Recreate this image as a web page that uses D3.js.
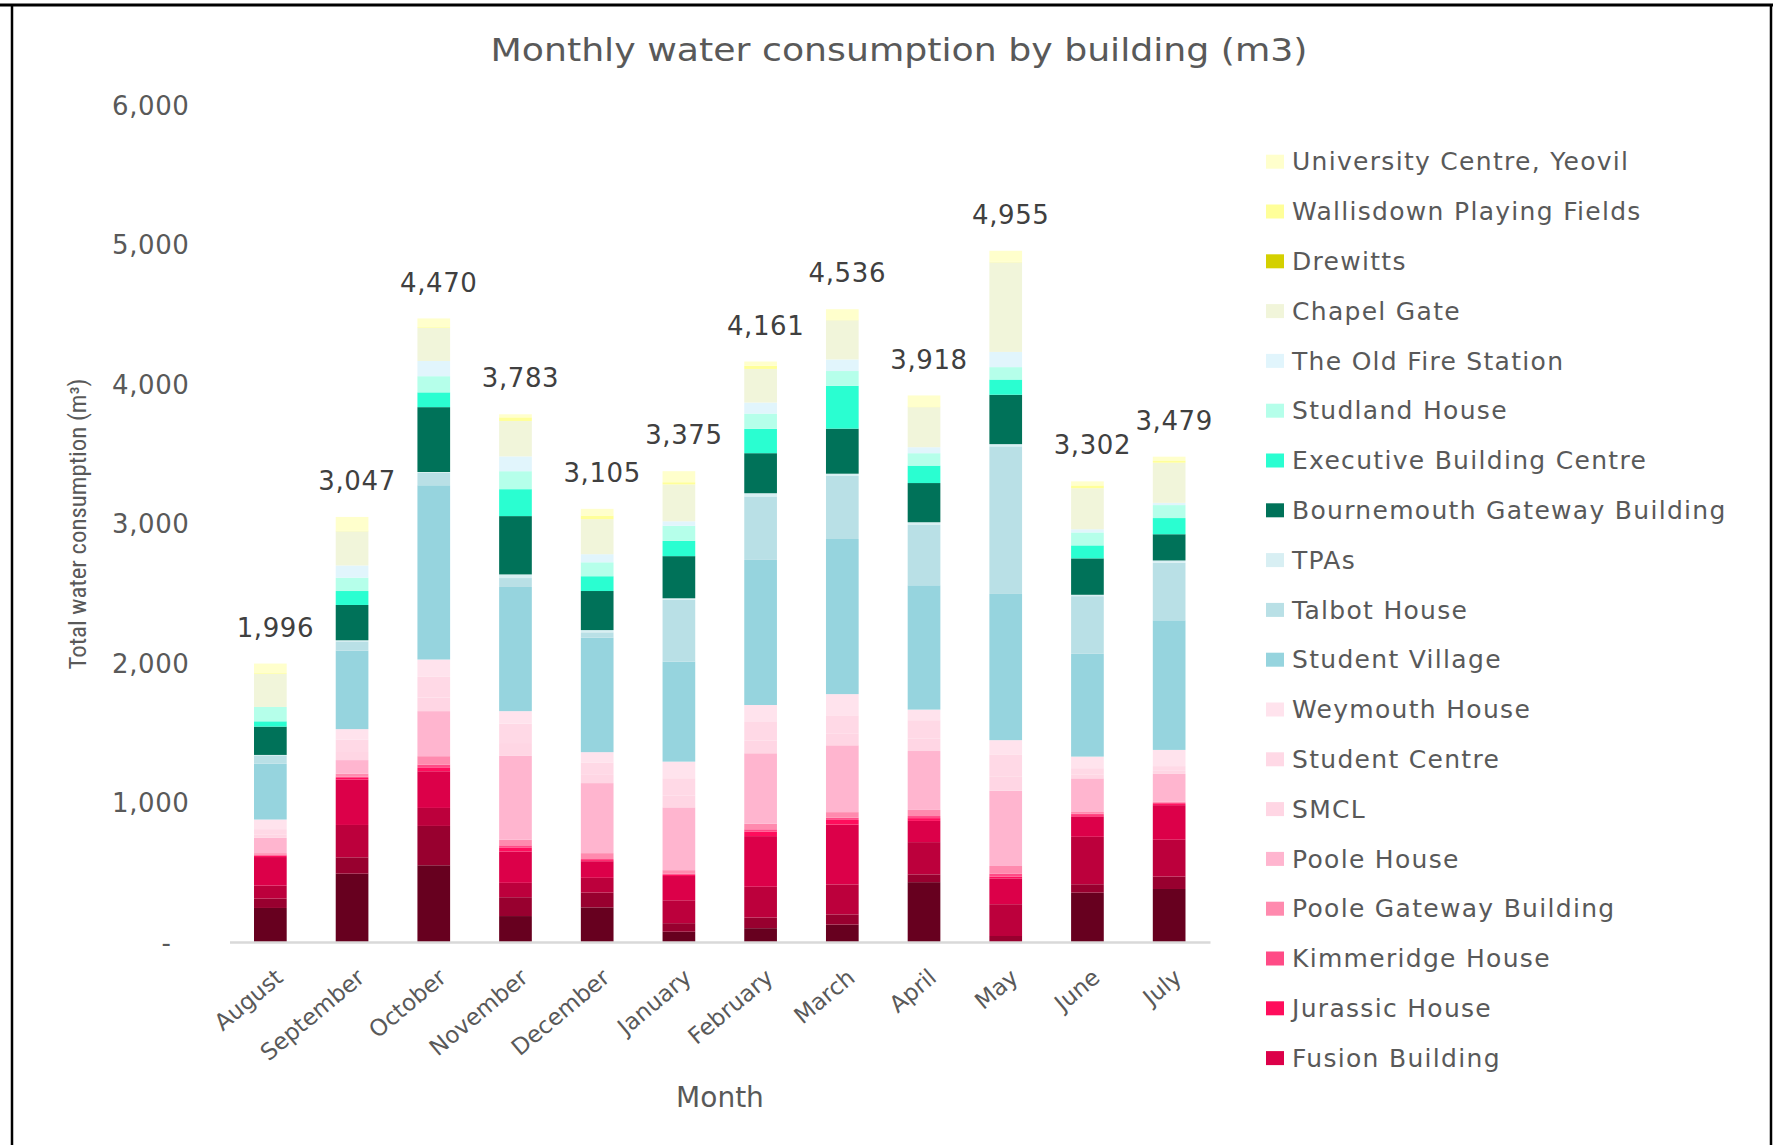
<!DOCTYPE html>
<html><head><meta charset="utf-8">
<script src="https://cdn.jsdelivr.net/npm/d3@7"></script>
<style>body{margin:0;background:#fff}svg{display:block}</style>
</head><body>
<svg id="chart" width="1773" height="1145"></svg>
<script>
// ---------- DATA ----------
const months = ["August","September","October","November","December","January","February","March","April","May","June","July"];
const totals = [1996,3047,4470,3783,3105,3375,4161,4536,3918,4955,3302,3479];
const yTicks = [0,1000,2000,3000,4000,5000,6000];

// series listed bottom → top of the stack (first three are below the visible, cut-off legend)
const unlabelled1       = [244,490,550,186,248, 74, 99,125,429,  0,354,380];
const unlabelled2       = [ 67,117,282,135,106, 61, 76, 73, 56, 43, 60, 89];
const unlabelled3       = [ 93,232,129,103,106,164,221,215,231,228,340,264];
const fusionBuilding    = [205,325,263,225,119,174,363,429,152,185,145,248];
const jurassicHouse     = [ 10, 12, 24, 29,  8,  8, 33, 33, 20, 13, 10,  8];
const kimmeridgeHouse   = [  8, 10, 24, 15,  8,  8, 16, 16, 15, 20, 10,  8];
const pooleGateway      = [ 10, 20, 60, 40, 42, 26, 40, 40, 44, 56, 13, 10];
const pooleHouse        = [110, 98,323,601,502,450,505,479,422,539,241,198];
const smcl              = [ 25, 58, 98, 92, 59, 84, 90, 86, 88,104, 29, 22];
const studentCentre     = [ 37, 88,148,139, 89,125,134,129,133,157, 44, 34];
const weymouthHouse     = [ 69, 76,124, 90, 74,119,122,152, 76,102, 83,116];
const studentVillage    = [400,562,1249,890,820,717,1040,1112,891,1048,737,929];
const talbotHouse       = [ 60, 67, 90, 64, 39,444,455,452,436,1058,413,413];
const tpas              = [  3,  8,  5, 26, 16, 10, 23, 16, 16, 16, 10, 16];
const bournemouthGateway= [203,253,465,418,280,302,287,323,281,354,261,188];
const executiveBuilding = [ 38,100,106,193,106,109,175,307,125,109, 93,116];
const studlandHouse     = [103, 96,116,129,100,109,109,106, 89, 89, 93, 93];
const oldFireStation    = [  0, 87,109,106, 58, 32, 79, 83, 43,109, 23, 16];
const chapelGate        = [238,245,238,254,251,264,241,281,287,642,294,288];
const drewitts          = [  0,  0,  0,  0,  0,  0,  0,  0,  0,  0,  0,  0];
const wallisdown        = [  5,  5,  5, 26, 26, 16, 23,  5,  5,  5, 20, 16];
const ucYeovil          = [ 68, 98, 62, 22, 48, 79, 30, 74, 79, 78, 29, 27];

const series = [
  {name:"Unlabelled 1", values:unlabelled1, color:"#67001f", legend:false},
  {name:"Unlabelled 2", values:unlabelled2, color:"#98002f", legend:false},
  {name:"Unlabelled 3", values:unlabelled3, color:"#bc003c", legend:false},
  {name:"Fusion Building", values:fusionBuilding, color:"#dc0049", legend:true},
  {name:"Jurassic House", values:jurassicHouse, color:"#ff0d5c", legend:true},
  {name:"Kimmeridge House", values:kimmeridgeHouse, color:"#ff4b86", legend:true},
  {name:"Poole Gateway Building", values:pooleGateway, color:"#ff8aae", legend:true},
  {name:"Poole House", values:pooleHouse, color:"#ffb5cf", legend:true},
  {name:"SMCL", values:smcl, color:"#ffd6e4", legend:true},
  {name:"Student Centre", values:studentCentre, color:"#ffd9e6", legend:true},
  {name:"Weymouth House", values:weymouthHouse, color:"#ffe3ed", legend:true},
  {name:"Student Village", values:studentVillage, color:"#96d4de", legend:true},
  {name:"Talbot House", values:talbotHouse, color:"#b9e0e6", legend:true},
  {name:"TPAs", values:tpas, color:"#d8eff3", legend:true},
  {name:"Bournemouth Gateway Building", values:bournemouthGateway, color:"#007259", legend:true},
  {name:"Executive Building Centre", values:executiveBuilding, color:"#2afed1", legend:true},
  {name:"Studland House", values:studlandHouse, color:"#b5ffea", legend:true},
  {name:"The Old Fire Station", values:oldFireStation, color:"#e1f5fc", legend:true},
  {name:"Chapel Gate", values:chapelGate, color:"#f1f5da", legend:true},
  {name:"Drewitts", values:drewitts, color:"#d4d000", legend:true},
  {name:"Wallisdown Playing Fields", values:wallisdown, color:"#ffff99", legend:true},
  {name:"University Centre, Yeovil", values:ucYeovil, color:"#ffffcc", legend:true}
];

// ---------- DRAW ----------
const svg = d3.select("#chart");
const textColor = "#595959";
const font = "'DejaVu Sans', Verdana, sans-serif";

// frame
svg.append("rect").attr("x",0).attr("y",0).attr("width",1773).attr("height",1145).attr("fill","#fff");
svg.append("line").attr("x1",0).attr("x2",1773).attr("y1",5).attr("y2",5).attr("stroke","#000").attr("stroke-width",3);
svg.append("line").attr("x1",12).attr("x2",12).attr("y1",5).attr("y2",1145).attr("stroke","#000").attr("stroke-width",2.5);
svg.append("line").attr("x1",1771).attr("x2",1771).attr("y1",5).attr("y2",1145).attr("stroke","#000").attr("stroke-width",2.5);

const x = d3.scaleBand().domain(months).range([229.5,1210]).paddingInner(0.6).paddingOuter(0.3);
const y = d3.scaleLinear().domain([0,6000]).range([942,105]);

const rows = months.map((m,i)=>{const r={month:m}; series.forEach(s=>r[s.name]=s.values[i]); return r;});
const stacked = d3.stack().keys(series.map(s=>s.name))(rows);

svg.append("g").selectAll("g").data(stacked).join("g")
  .attr("fill",(d,i)=>series[i].color)
  .selectAll("rect").data(d=>d.filter(v=>v[1]-v[0]>0)).join("rect")
  .attr("x",d=>x(d.data.month)).attr("width",x.bandwidth())
  .attr("y",d=>y(d[1])).attr("height",d=>y(d[0])-y(d[1]));

// y axis
const yAxis = svg.append("g").attr("transform","translate(229.5,0)")
  .call(d3.axisLeft(y).tickValues(yTicks).tickSize(0).tickPadding(40)
        .tickFormat(d=>d===0?"-":d3.format(",")(d)));
yAxis.select(".domain").remove();
yAxis.selectAll("text").attr("fill",textColor).attr("font-family",font).attr("font-size",26)
  .attr("letter-spacing",0.6).attr("dy","0.35em")
  .attr("x",d=>d===0?-58:-40);

// x axis
const xAxis = svg.append("g").attr("transform","translate(0,942)")
  .call(d3.axisBottom(x).tickSize(0));
xAxis.select(".domain").attr("stroke","#d9d9d9").attr("stroke-width",2.5);
xAxis.selectAll("text").attr("fill",textColor).attr("font-family",font).attr("font-size",23)
  .attr("text-anchor","end").attr("x",0).attr("y",0).attr("dy",0)
  .attr("transform","translate(14,38) rotate(-40)");

// data labels
svg.append("g").selectAll("text").data(months).join("text")
  .attr("x",(m)=>x(m)+x.bandwidth()/2+5)
  .attr("y",(m,i)=>y(totals[i])-36)
  .attr("dy","0.35em").attr("text-anchor","middle")
  .attr("fill","#404040").attr("font-family",font).attr("font-size",26).attr("letter-spacing",0.6)
  .text((m,i)=>d3.format(",")(totals[i]));

// title
svg.append("text").attr("x",899).attr("y",50).attr("dy","0.35em").attr("text-anchor","middle")
  .attr("fill",textColor).attr("font-family",font).attr("font-size",32)
  .attr("textLength",817).attr("lengthAdjust","spacingAndGlyphs")
  .text("Monthly water consumption by building (m3)");

// axis titles
svg.append("text").attr("x",720).attr("y",1097).attr("dy","0.35em").attr("text-anchor","middle")
  .attr("fill",textColor).attr("font-family",font).attr("font-size",28)
  .text("Month");
svg.append("text").attr("transform","translate(78,524) rotate(-90)").attr("dy","0.35em").attr("text-anchor","middle")
  .attr("fill",textColor).attr("font-family","'Liberation Sans Narrow','Roboto Condensed',sans-serif").attr("font-size",23)
  .attr("textLength",291).attr("lengthAdjust","spacingAndGlyphs")
  .text("Total water consumption (m³)");

// legend (top → bottom = reverse stack order)
const legendItems = series.filter(s=>s.legend).slice().reverse();
const lg = svg.append("g").selectAll("g").data(legendItems).join("g")
  .attr("transform",(d,i)=>`translate(1266,${161.7+i*49.8})`);
lg.append("rect").attr("x",0).attr("y",-7).attr("width",18).attr("height",14).attr("fill",d=>d.color);
lg.append("text").attr("x",26).attr("y",0).attr("dy","0.35em")
  .attr("fill",textColor).attr("font-family",font).attr("font-size",25).attr("letter-spacing",1.3)
  .text(d=>d.name);
</script>
</body></html>
